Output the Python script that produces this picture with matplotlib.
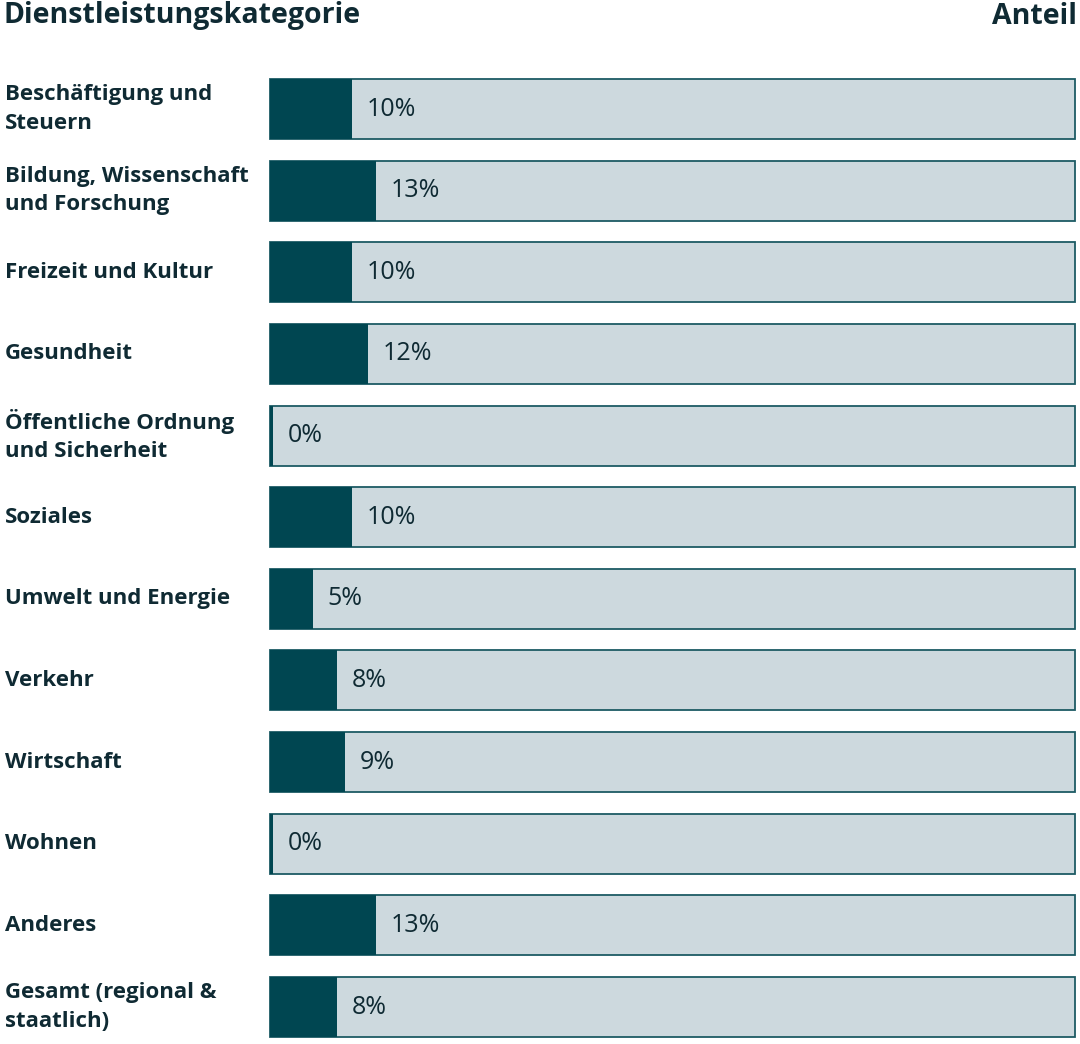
import matplotlib
matplotlib.use("Agg")
import matplotlib.pyplot as plt

categories = [
    "Beschäftigung und\nSteuern",
    "Bildung, Wissenschaft\nund Forschung",
    "Freizeit und Kultur",
    "Gesundheit",
    "Öffentliche Ordnung\nund Sicherheit",
    "Soziales",
    "Umwelt und Energie",
    "Verkehr",
    "Wirtschaft",
    "Wohnen",
    "Anderes",
    "Gesamt (regional &\nstaatlich)",
]
values = [10.2, 13.2, 10.2, 12.2, 0.4, 10.2, 5.3, 8.3, 9.3, 0.4, 13.2, 8.3]
labels = ["10%", "13%", "10%", "12%", "0%", "10%", "5%", "8%", "9%", "0%", "13%", "8%"]

W, H = 1080, 1044
DPI = 100
fig = plt.figure(figsize=(W / DPI, H / DPI), dpi=DPI)
fig.patch.set_facecolor("white")

dark = "#004651"
light = "#cdd9de"
edge = "#1d5b64"
txt = "#0f2a33"
font = "Open Sans"

x0, x1 = 270, 1075
ytop, ybot = 79, 1037
ax = fig.add_axes([x0 / W, (H - ybot) / H, (x1 - x0) / W, (ybot - ytop) / H])
n = len(categories)
pitch = (ybot - ytop - 60) / (n - 1)
bh = 60 / pitch
half = bh / 2
ax.set_ylim(n - 1 + half, -half)
ax.set_xlim(0, 100)
ax.axis("off")

ys = list(range(n))
ax.barh(ys, [100] * n, height=bh, color=light, edgecolor=edge, linewidth=1.3, clip_on=False, zorder=1)
ax.barh(ys, values, height=bh, color=dark, edgecolor="none", clip_on=False, zorder=2)

for y, v, lab, cat in zip(ys, values, labels, categories):
    ax.text(v + 1.8, y, lab, va="center", ha="left", fontsize=18, color=txt,
            family=font, zorder=3)
    ax.text(-265 / 805 * 100, y, cat, va="center", ha="left", fontsize=16,
            color=txt, family=font, fontweight="bold", linespacing=1.45,
            clip_on=False)

fig.text(4 / W, 1 - 16 / H, "Dienstleistungskategorie", ha="left", va="center",
         fontsize=20.5, fontweight="bold", color=txt, family=font)
fig.text(1077 / W, 1 - 16 / H, "Anteil", ha="right", va="center",
         fontsize=20.5, fontweight="bold", color=txt, family=font)

fig.savefig("out.png", dpi=DPI, facecolor="white")
